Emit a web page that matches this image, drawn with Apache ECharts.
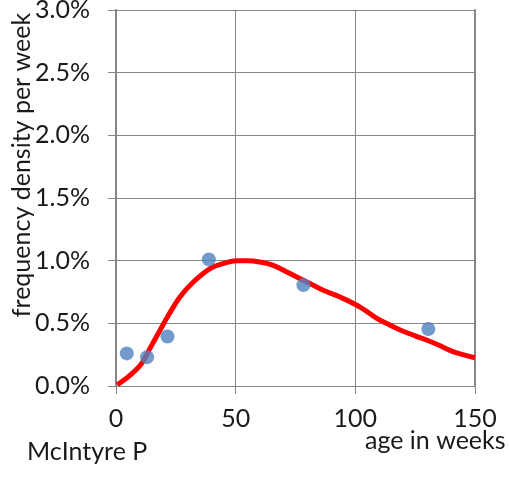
<!DOCTYPE html>
<html>
<head>
<meta charset="utf-8">
<style>
  html, body { margin: 0; padding: 0; background: #fff; }
  #chart { width: 509px; height: 477px; }
</style>
<script src="https://cdn.jsdelivr.net/npm/echarts@6.0.0/dist/echarts.min.js"></script>
</head>
<body>
<div id="chart"></div>
<script>
// Observed frequency density per week (%), by age in weeks
const obsAge = [4.5, 13, 21.5, 38.8, 78.3, 130.5];
const obsDensity = [0.26, 0.23, 0.395, 1.01, 0.805, 0.455];

// Fitted density curve (%), by age in weeks
const fitAge = [0.5, 5.8, 10.7, 14.2, 18.4, 21.9, 26.7, 32.3, 39.3, 44.8, 50.4, 55, 60, 65.7, 72.7, 79.7, 86.6, 93.6, 102, 109, 114, 119, 125, 130, 135, 140, 145, 150];
const fitDensity = [0.01, 0.085, 0.18, 0.30, 0.445, 0.564, 0.71, 0.83, 0.937, 0.977, 1.0, 1.0, 0.99, 0.963, 0.897, 0.83, 0.764, 0.71, 0.63, 0.54, 0.49, 0.445, 0.40, 0.365, 0.325, 0.28, 0.25, 0.225];

// Axis ticks
const xTicks = [0, 50, 100, 150];
const yTicks = [0, 0.5, 1.0, 1.5, 2.0, 2.5, 3.0];

const FONT = 'Lato';
const TEXT = '#1a1a1a';
const GRID = '#868686';

const chart = echarts.init(document.getElementById('chart'), null, { renderer: 'canvas' });

chart.setOption({
  animation: false,
  backgroundColor: '#ffffff',
  grid: { left: 116, right: 34, top: 10, bottom: 91, containLabel: false, outerBoundsMode: 'none' },
  xAxis: {
    type: 'value',
    min: xTicks[0],
    max: xTicks[xTicks.length - 1],
    interval: xTicks[1] - xTicks[0],
    axisLine: { show: true, onZero: false, lineStyle: { color: GRID, width: 1 } },
    axisTick: { show: true, inside: false, length: 8, lineStyle: { color: GRID, width: 1 } },
    splitLine: { show: true, lineStyle: { color: GRID, width: 1 } },
    axisLabel: { color: TEXT, fontFamily: FONT, fontSize: 25, margin: 20 }
  },
  yAxis: [{
    type: 'value',
    min: yTicks[0],
    max: yTicks[yTicks.length - 1],
    interval: yTicks[1] - yTicks[0],
    axisLine: { show: true, lineStyle: { color: GRID, width: 2 } },
    axisTick: { show: true, inside: false, length: 8, lineStyle: { color: GRID, width: 1 } },
    splitLine: { show: true, lineStyle: { color: GRID, width: 1 } },
    axisLabel: {
      color: TEXT, fontFamily: FONT, fontSize: 25, margin: 26,
      formatter: v => v.toFixed(1) + '%'
    }
  }, {
    type: 'value',
    position: 'right',
    min: yTicks[0],
    max: yTicks[yTicks.length - 1],
    interval: yTicks[1] - yTicks[0],
    axisLine: { show: true, lineStyle: { color: GRID, width: 2 } },
    axisTick: { show: false },
    splitLine: { show: false },
    axisLabel: { show: false }
  }],
  series: [{
    type: 'line',
    data: fitAge.map((a, i) => [a, fitDensity[i]]),
    smooth: 0.4,
    showSymbol: false,
    lineStyle: { color: '#ff0000', width: 5 },
    z: 2
  }, {
    type: 'scatter',
    data: obsAge.map((a, i) => [a, obsDensity[i]]),
    symbol: 'circle',
    symbolSize: 14,
    itemStyle: { color: '#4f81bd' },
    z: 3
  }],
  graphic: [{
    type: 'text',
    x: 22, y: 165,
    rotation: Math.PI / 2,
    style: {
      text: 'frequency density per week',
      fontFamily: FONT, fontSize: 25, fill: TEXT,
      align: 'center', verticalAlign: 'middle'
    }
  }, {
    type: 'text',
    x: 365, y: 441,
    style: {
      text: 'age in weeks',
      fontFamily: FONT, fontSize: 25, fill: TEXT,
      align: 'left', verticalAlign: 'middle'
    }
  }, {
    type: 'text',
    x: 27, y: 452,
    style: {
      text: 'McIntyre P',
      fontFamily: FONT, fontSize: 25, fill: TEXT,
      align: 'left', verticalAlign: 'middle'
    }
  }]
});
</script>
</body>
</html>
